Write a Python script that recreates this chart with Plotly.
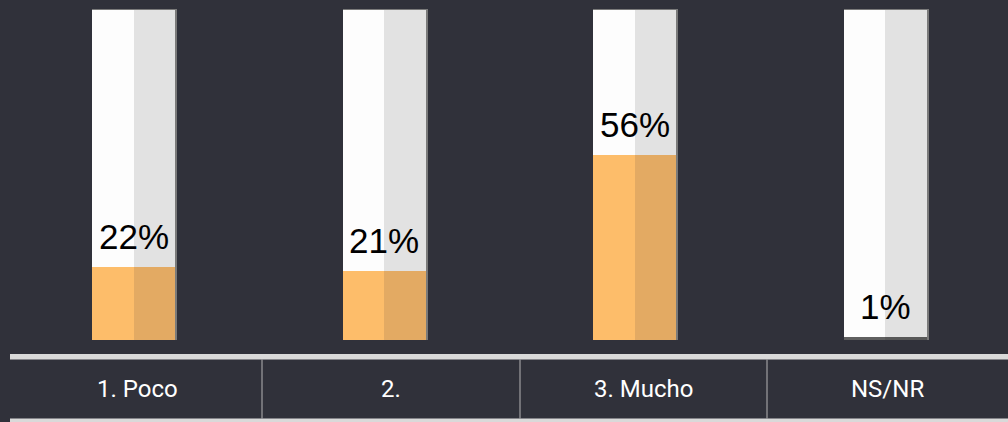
import plotly.graph_objects as go

categories = ["1. Poco", "2.", "3. Mucho", "NS/NR"]
values = [22, 21, 56, 1]
labels = ["22%", "21%", "56%", "1%"]
fill_left = ["#fdbd6a", "#fdbd6a", "#fdbd6a", "#606060"]
fill_right = ["#e3aa63", "#e3aa63", "#e3aa63", "#585858"]

W, H = 1008, 422
BG = "#30313a"

# pixel helpers (layout only)
X0, XSTEP = 133.5, 250.5
Y0, YPX = 340.0, 3.3
def xv(px):
    return (px - X0) / XSTEP
def yv(py):
    return (Y0 - py) / YPX

xs = list(range(len(categories)))
half = 41.5 / XSTEP
full = [100] * len(categories)

fig = go.Figure()
# shadow/edge
fig.add_trace(go.Bar(x=xs, y=[100.3] * 4, width=2 * half + 2 / XSTEP, offset=-half,
                     marker=dict(color="#7a7a7a", line=dict(width=0)), hoverinfo="skip"))
fig.add_trace(go.Bar(x=xs, y=full, width=half, offset=-half,
                     marker=dict(color="#fdfdfd", line=dict(width=0)), hoverinfo="skip"))
fig.add_trace(go.Bar(x=xs, y=full, width=half, offset=0,
                     marker=dict(color="#e2e2e2", line=dict(width=0)), hoverinfo="skip"))
fig.add_trace(go.Bar(x=xs, y=values, width=half, offset=-half,
                     marker=dict(color=fill_left, line=dict(width=0)), hoverinfo="skip"))
fig.add_trace(go.Bar(x=xs, y=values, width=half, offset=0,
                     marker=dict(color=fill_right, line=dict(width=0)), hoverinfo="skip"))

for i, (v, t) in enumerate(zip(values, labels)):
    fig.add_annotation(x=xs[i], y=v, text=t, showarrow=False, yanchor="bottom",
                       yshift=9, font=dict(family="Liberation Sans, Arial", size=35, color="#000000"))

label_centers = [137, 391, 643, 887]
for c, px in zip(categories, label_centers):
    fig.add_annotation(x=px / W, xref="paper", y=1 - 389 / H, yref="paper", text=c,
                       showarrow=False, xanchor="center", yanchor="middle",
                       font=dict(family="Roboto, Liberation Sans", size=24, color="#ffffff"))

shapes = []
# top thick line
shapes.append(dict(type="rect", xref="paper", yref="paper", x0=10 / W, x1=1.0,
                   y0=1 - 359.5 / H, y1=1 - 354 / H, fillcolor="#d9d9d9", line=dict(width=0), layer="above"))
# bottom line
shapes.append(dict(type="rect", xref="paper", yref="paper", x0=10 / W, x1=1.0,
                   y0=0, y1=1 - 418.5 / H, fillcolor="#d9d9d9", line=dict(width=0), layer="above"))
for px in [262, 520, 767]:
    shapes.append(dict(type="line", xref="paper", yref="paper", x0=px / W, x1=px / W,
                       y0=1 - 418.5 / H, y1=1 - 359.5 / H, line=dict(color="#b4b4b4", width=1)))

fig.update_layout(
    width=W, height=H, margin=dict(l=0, r=0, t=0, b=0),
    paper_bgcolor=BG, plot_bgcolor=BG, barmode="overlay", bargap=0,
    showlegend=False, shapes=shapes,
    xaxis=dict(range=[xv(0), xv(W)], visible=False, fixedrange=True),
    yaxis=dict(range=[yv(H), yv(0)], visible=False, fixedrange=True),
)
fig.write_html(
    "out.html",
    config={"displayModeBar": False},
    post_script="document.body.style.margin='0';document.body.style.overflow='hidden';document.body.style.background='%s';" % BG,
)
